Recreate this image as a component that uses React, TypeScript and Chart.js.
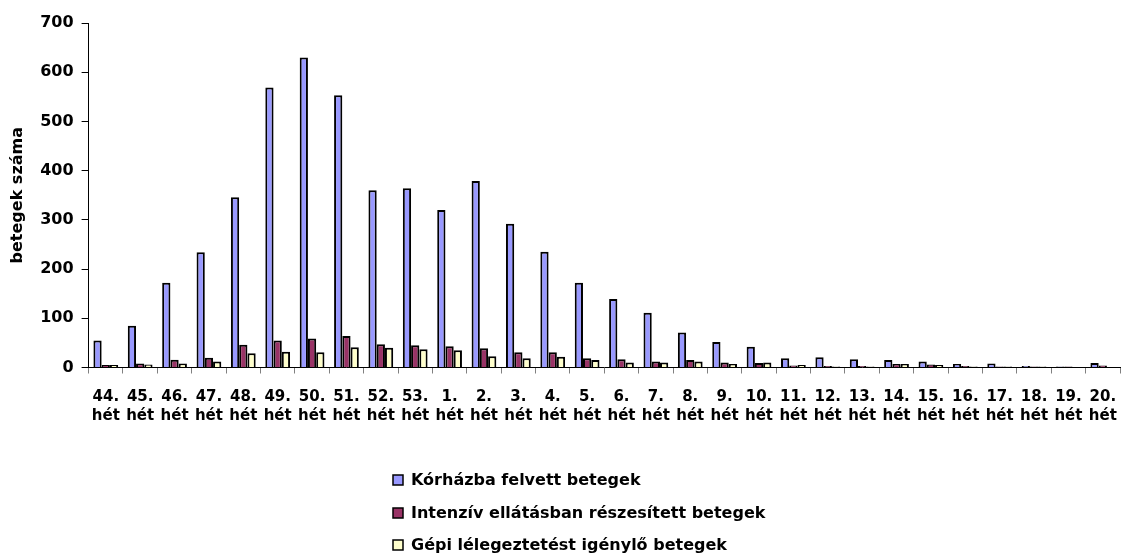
import React, { useEffect, useRef } from 'react';
import { Chart, registerables } from 'chart.js';

Chart.register(...registerables);

const weeks = ['44.', '45.', '46.', '47.', '48.', '49.', '50.', '51.', '52.', '53.', '1.', '2.', '3.', '4.', '5.', '6.', '7.', '8.', '9.', '10.', '11.', '12.', '13.', '14.', '15.', '16.', '17.', '18.', '19.', '20.'];
const weekWord = 'hét';
const admitted = [55, 85, 172, 234, 346, 569, 630, 553, 360, 364, 320, 379, 292, 235, 172, 139, 111, 71, 52, 42, 19, 21, 17, 15, 12, 7, 8, 3, 2, 9];
const intensive = [5, 8, 16, 20, 46, 55, 59, 64, 47, 45, 43, 39, 31, 31, 19, 17, 12, 15, 10, 9, 4, 3, 3, 7, 6, 3, 2, 2, 2, 4];
const ventilated = [5, 6, 8, 12, 29, 32, 31, 41, 40, 37, 35, 23, 19, 22, 15, 10, 10, 12, 7, 10, 5, 2, 2, 7, 5, 2, 2, 2, 1, 1];
const seriesNames = ['Kórházba felvett betegek', 'Intenzív ellátásban részesített betegek', 'Gépi lélegeztetést igénylő betegek'];
const seriesColors = ['#9999FF', '#993366', '#FFFFCC'];
const yAxisTitle = 'betegek száma';
const yMax = 700;
const yStep = 100;

const FONT = '"DejaVu Sans", "Liberation Sans", Arial, sans-serif';

const verticalLegend = {
  id: 'verticalLegend',
  afterDraw(chart: any) {
    const ctx = chart.ctx;
    ctx.save();
    const x = 393;
    const y0 = 480;
    const gap = 32.5;
    ctx.font = `bold 16px ${FONT}`;
    ctx.textBaseline = 'middle';
    ctx.textAlign = 'left';
    chart.data.datasets.forEach((ds: any, i: number) => {
      const y = Math.round(y0 + i * gap);
      ctx.fillStyle = ds.backgroundColor;
      ctx.fillRect(x, y - 5, 10, 10);
      ctx.strokeStyle = '#000';
      ctx.lineWidth = 1.5;
      ctx.strokeRect(x, y - 5, 10, 10);
      ctx.fillStyle = '#000';
      ctx.fillText(ds.label, x + 18, y + 1);
    });
    ctx.restore();
  },
};

export default function App() {
  const ref = useRef<HTMLCanvasElement>(null);

  useEffect(() => {
    document.body.style.margin = '0';
    const labels = weeks.map((w) => [w, weekWord]);
    const data = [admitted, intensive, ventilated];
    const chart = new Chart(ref.current!, {
      type: 'bar',
      data: {
        labels,
        datasets: data.map((d, i) => ({
          label: seriesNames[i],
          data: d,
          backgroundColor: seriesColors[i],
          borderColor: '#000',
          borderWidth: 2,
          categoryPercentage: 0.72,
          barPercentage: 1.0,
        })),
      },
      options: {
        responsive: false,
        animation: false,
        layout: { padding: { top: 23, right: 3, left: 0, bottom: 118 } },
        plugins: {
          legend: { display: false },
          tooltip: { enabled: false },
        },
        scales: {
          x: {
            afterFit: (scale: any) => {
              scale.paddingRight = 0;
              scale.paddingLeft = 0;
            },
            grid: {
              display: true,
              drawOnChartArea: false,
              drawTicks: true,
              tickLength: 6,
              offset: true,
              color: '#808080',
            },
            border: { display: true, color: '#000', width: 1 },
            ticks: {
              color: '#000',
              font: { family: FONT, size: 15, weight: 'bold', lineHeight: 1.25 },
              maxRotation: 0,
              minRotation: 0,
              autoSkip: false,
              padding: 14,
            },
          },
          y: {
            min: 0,
            max: yMax,
            grid: {
              display: true,
              drawOnChartArea: false,
              drawTicks: true,
              tickLength: 7,
              color: '#000',
            },
            border: { display: true, color: '#000', width: 1 },
            ticks: {
              stepSize: yStep,
              color: '#000',
              font: { family: FONT, size: 16, weight: 'bold' },
              padding: 8,
            },
            title: {
              display: true,
              text: yAxisTitle,
              color: '#000',
              font: { family: FONT, size: 16, weight: 'bold' },
              padding: { top: 8, bottom: 5 },
            },
          },
        },
      },
      plugins: [verticalLegend],
    });
    return () => chart.destroy();
  }, []);

  return (
    <div style={{ position: 'absolute', left: 0, top: 0, width: 1123, height: 557 }}>
      <canvas ref={ref} width={1123} height={557} />
    </div>
  );
}
